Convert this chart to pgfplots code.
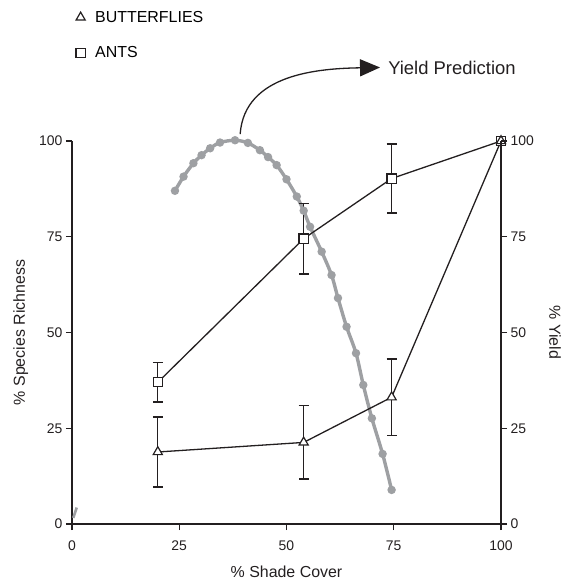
\documentclass[border=0pt]{standalone}
\usepackage{fontspec}
\setmainfont{Liberation Sans}
\usepackage{pgfplots}
\pgfplotsset{compat=1.18}
\usetikzlibrary{arrows.meta}

\definecolor{ink}{RGB}{35,31,32}
\definecolor{yieldgray}{RGB}{158,160,163}

\pgfplotsset{
  base/.style={
    scale only axis, width=429bp, height=383bp,
    xmin=0, xmax=100, ymin=0, ymax=100,
    xtick={0,25,50,75,100}, ytick={0,25,50,75,100},
    tick align=outside, major tick length=6bp,
    axis line style={ink, line width=1.4bp},
    every tick/.style={ink, line width=1.4bp},
    tick label style={font=\fontsize{14}{16}\selectfont, text=ink},
    xticklabel style={yshift=-7bp},
    /pgf/number format/assume math mode=true,
    clip=false,
  },
  mk/.style={ink, line width=1.3bp, mark options={fill=white, draw=ink, line width=1.2bp, solid}},
}

\begin{document}
\begin{tikzpicture}
\path[use as bounding box] (-72bp,-57bp) rectangle (493bp,524bp);

\begin{axis}[base,
  axis x line*=bottom, axis y line*=left,
  xlabel={\% Shade Cover}, ylabel={\% Species Richness},
  every axis x label/.style={at={(axis description cs:0.5,-0.1245)}, anchor=center,
    font=\fontsize{16}{19}\selectfont, text=ink},
  every axis y label/.style={at={(axis description cs:-0.1196,0.5)}, anchor=center, rotate=90,
    font=\fontsize{16}{19}\selectfont, text=ink},
  legend style={draw=none, fill=none, at={(axis description cs:0.002,1.35)}, anchor=north west,
    font=\fontsize{16}{19}\selectfont, row sep=19bp, column sep=8bp},
  legend cell align=left,
]
\addlegendimage{mk, only marks, mark=triangle*, mark size=5.3bp}
\addlegendentry{BUTTERFLIES}
\addlegendimage{mk, only marks, mark=square*, mark size=4.6bp}
\addlegendentry{ANTS}

% yield prediction curve
\addplot[yieldgray, line width=3.4bp, smooth, mark=*, mark size=2.4bp,
  mark options={fill=yieldgray, draw=none}, forget plot] coordinates {
  (24,87) (26,90.7) (28.3,94.2) (30.2,96.3) (32.2,98.1) (34.5,99.6) (38,100.2)
  (41,99.5) (43.8,97.6) (45.7,95.8) (47.7,93.7) (50,90) (52.4,85.5) (54,81.8)
  (55.5,77.6) (58.2,71.1) (60.5,65) (62,59) (64,51.5) (66.2,44.6) (67.9,36.3)
  (69.9,27.6) (72.4,18.3) (74.5,8.9)
};
\addplot[yieldgray, line width=2.6bp, forget plot] coordinates {(0.3,1.6) (1.1,4.3)};

% ants
\addplot[mk, mark=square*, mark size=4.6bp, forget plot,
  error bars/.cd, y dir=both, y explicit,
  error bar style={line width=1.4bp, solid},
  error mark options={line width=1.4bp, mark size=5bp, rotate=90}]
  coordinates {
  (20,37) +- (0,5.1)
  (54,74.5) +- (0,9.2)
  (74.5,90.2) +- (0,9)
  (100,100) +- (0,0)
};
% butterflies
\addplot[mk, mark=triangle*, mark size=5.3bp, forget plot,
  error bars/.cd, y dir=both, y explicit,
  error bar style={line width=1.4bp, solid},
  error mark options={line width=1.4bp, mark size=5bp, rotate=90}]
  coordinates {
  (20,18.8) +- (0,9.1)
  (54,21.3) +- (0,9.6)
  (74.5,33.1) +- (0,10)
  (100,100) +- (0,0)
};

\draw[ink, line width=1.3bp, -{Triangle[length=20bp, width=17bp]}]
  (axis cs:39.2,101.8) to[out=86, in=181] (axis cs:71.8,119.2);
\node[anchor=west, text=ink, font=\fontsize{18.5}{22}\selectfont]
  at (axis cs:72.9,119.2) {Yield Prediction};
\end{axis}

\begin{axis}[base,
  axis x line=none, axis y line*=right,
  ylabel={\% Yield},
  every axis y label/.style={at={(axis description cs:1.126,0.5)}, anchor=center, rotate=-90,
    font=\fontsize{16}{19}\selectfont, text=ink},
]
\end{axis}
\end{tikzpicture}
\end{document}
